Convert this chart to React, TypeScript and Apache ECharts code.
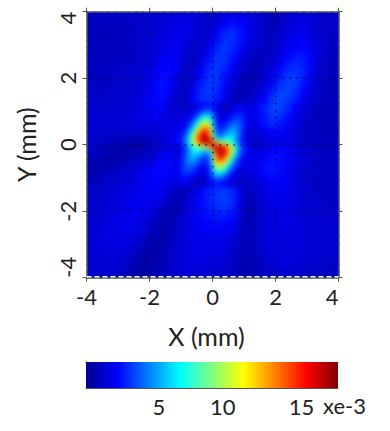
import React, { useEffect, useRef } from "react";
import * as echarts from "echarts";

const FONT = "Lato";
const jet = ["#00008f", "#0000ff", "#0080ff", "#00ffff", "#80ff80", "#ffff00", "#ff8000", "#ff0000", "#800000"];
const maxValue = 17.3;

// values in units of 1e-3; first row is the top of the plot, first column the left
const coarseRows: number[][] = [
  [0.9,1.0,1.0,1.0,1.0,1.1,1.1,1.2,1.3,1.3,1.4,1.5,1.5,1.5,1.3,1.0,1.2,1.6,1.8,1.8,1.5,1.3,1.1,0.8,0.9,1.2,1.4,1.5,1.3,1.1,1.1,1.1],
  [0.9,0.9,1.0,0.9,0.9,1.0,1.1,1.2,1.3,1.4,1.5,1.6,1.7,1.5,1.2,1.1,1.5,2.1,2.4,2.2,1.8,1.4,1.1,0.8,1.0,1.3,1.6,1.6,1.4,1.1,1.1,1.1],
  [0.8,0.9,0.9,0.9,0.9,1.0,1.1,1.2,1.3,1.4,1.6,1.8,1.8,1.4,1.1,1.3,1.9,2.7,2.9,2.5,1.9,1.4,1.0,0.9,1.2,1.5,1.8,1.8,1.5,1.2,1.1,1.0],
  [0.8,0.8,0.9,0.9,0.9,1.0,1.1,1.2,1.4,1.5,1.7,1.9,1.6,1.2,1.1,1.5,2.3,3.0,2.9,2.4,1.7,1.3,1.0,1.0,1.3,1.7,2.0,2.0,1.6,1.3,1.0,1.0],
  [0.8,0.8,0.9,0.9,0.9,1.0,1.1,1.2,1.4,1.6,1.9,1.9,1.4,1.0,1.2,1.9,2.7,3.1,2.7,2.0,1.4,1.1,0.9,1.1,1.4,1.9,2.2,2.2,1.8,1.4,1.0,0.9],
  [0.9,0.9,0.9,0.9,1.0,1.0,1.1,1.2,1.5,1.8,2.1,1.9,1.3,0.9,1.4,2.3,3.0,3.0,2.4,1.7,1.2,0.9,0.9,1.2,1.7,2.2,2.6,2.5,1.9,1.4,1.0,0.9],
  [0.9,0.9,0.9,1.0,1.0,1.1,1.1,1.3,1.6,2.0,2.2,1.8,1.1,1.0,1.8,2.7,3.1,2.8,2.0,1.3,0.9,0.8,1.0,1.4,2.0,2.6,2.9,2.7,2.0,1.3,0.9,0.8],
  [0.9,0.9,1.0,1.0,1.1,1.1,1.2,1.4,1.8,2.2,2.3,1.6,1.0,1.2,2.1,2.9,3.1,2.5,1.8,1.1,0.7,0.8,1.2,1.8,2.4,3.0,3.1,2.7,1.9,1.2,0.9,0.8],
  [1.0,1.0,1.0,1.1,1.1,1.2,1.3,1.5,2.0,2.4,2.2,1.4,0.9,1.4,2.5,3.1,3.0,2.3,1.5,0.9,0.7,0.9,1.3,2.1,2.8,3.2,3.2,2.5,1.7,1.1,0.9,0.8],
  [1.0,1.0,1.1,1.1,1.2,1.2,1.3,1.7,2.2,2.4,2.0,1.2,1.0,1.8,2.8,3.1,2.8,2.0,1.2,0.7,0.8,1.1,1.7,2.5,3.2,3.3,2.9,2.2,1.5,1.0,0.9,0.8],
  [1.1,1.1,1.1,1.1,1.2,1.3,1.4,1.9,2.2,2.3,1.7,1.0,1.1,2.0,2.8,3.0,2.6,1.8,1.0,0.7,1.0,1.4,2.2,3.0,3.4,3.1,2.6,1.8,1.3,1.0,0.9,0.8],
  [1.2,1.2,1.2,1.2,1.2,1.3,1.4,1.8,2.1,2.0,1.4,1.1,1.1,1.9,2.7,2.7,2.0,1.3,0.8,1.0,1.6,1.9,2.6,3.2,3.3,2.8,2.1,1.5,1.1,0.9,0.8,0.8],
  [1.2,1.3,1.3,1.3,1.3,1.4,1.5,1.7,1.9,1.7,1.3,1.3,1.8,3.0,4.0,3.0,2.0,1.5,1.3,2.2,2.1,1.9,2.5,3.1,3.0,2.4,1.8,1.3,1.0,0.9,0.8,0.8],
  [1.3,1.3,1.3,1.3,1.4,1.4,1.5,1.6,1.7,1.5,1.5,1.6,2.5,5.8,10.0,7.0,2.4,3.0,4.2,3.0,2.0,1.7,2.3,2.8,2.5,2.0,1.5,1.1,0.9,0.9,0.8,0.8],
  [1.3,1.2,1.2,1.2,1.1,1.1,1.2,1.3,1.3,1.4,1.6,1.9,3.1,7.4,12.8,8.4,3.0,4.6,4.7,2.9,1.6,1.3,1.7,2.0,2.1,1.8,1.4,1.1,0.9,0.9,0.9,0.8],
  [1.2,1.1,1.0,0.9,0.8,0.7,0.6,0.8,1.0,1.2,1.6,2.1,4.5,10.0,16.0,12.0,8.0,6.0,5.2,2.4,1.2,1.1,1.3,1.6,1.8,1.7,1.4,1.1,1.0,1.0,0.9,0.9],
  [1.1,0.9,0.8,0.7,0.6,0.5,0.6,0.8,1.0,1.4,1.7,2.2,5.2,6.0,8.8,12.0,16.0,10.0,5.0,2.4,1.2,1.3,1.5,1.8,2.0,1.9,1.5,1.2,1.0,1.0,0.9,0.9],
  [0.8,0.7,0.6,0.5,0.6,0.7,0.9,1.1,1.4,1.8,2.1,2.5,4.7,4.6,3.0,8.4,12.8,7.4,3.1,1.9,1.3,1.6,2.0,2.3,2.3,2.0,1.6,1.3,1.1,1.0,1.0,1.0],
  [0.6,0.5,0.6,0.7,0.9,1.1,1.3,1.6,2.0,2.2,2.3,2.4,4.2,3.0,2.4,7.0,10.0,5.8,2.5,1.6,1.5,1.9,2.3,2.5,2.3,1.9,1.5,1.2,1.1,1.0,1.0,1.0],
  [0.7,0.8,0.9,1.0,1.2,1.3,1.6,1.9,2.2,2.2,2.1,2.0,2.7,2.0,1.5,3.0,4.0,3.0,1.8,1.3,1.3,1.7,2.2,2.4,2.3,1.8,1.4,1.2,1.0,1.0,1.0,1.0],
  [1.0,1.0,1.1,1.2,1.3,1.4,1.7,1.9,2.1,2.0,1.7,1.3,0.9,1.1,1.8,2.5,2.9,3.0,2.6,1.7,1.2,1.3,1.7,2.1,2.1,1.8,1.4,1.2,1.0,1.0,1.0,1.0],
  [1.0,1.1,1.2,1.3,1.4,1.6,1.8,2.0,2.1,1.9,1.4,0.9,0.8,1.3,2.1,2.7,3.0,3.1,2.7,1.6,1.0,1.1,1.6,1.9,1.9,1.7,1.4,1.2,1.1,1.0,1.0,1.0],
  [1.1,1.2,1.3,1.4,1.5,1.7,1.9,2.0,1.9,1.5,1.0,0.7,1.0,1.7,2.3,2.7,3.0,3.2,2.9,1.7,0.8,1.0,1.4,1.8,1.9,1.7,1.4,1.2,1.1,1.1,1.0,1.0],
  [1.2,1.2,1.4,1.5,1.6,1.8,1.9,1.9,1.6,1.2,0.8,0.7,1.2,1.8,2.3,2.6,2.8,3.0,2.7,1.5,0.7,0.9,1.3,1.7,1.8,1.7,1.4,1.3,1.2,1.1,1.1,1.0],
  [1.2,1.3,1.4,1.5,1.7,1.8,1.8,1.6,1.3,0.9,0.6,0.8,1.3,1.8,2.2,2.4,2.5,2.6,2.3,1.3,0.7,0.9,1.3,1.6,1.7,1.6,1.5,1.3,1.2,1.2,1.1,1.1],
  [1.2,1.3,1.5,1.6,1.7,1.8,1.7,1.4,1.0,0.6,0.6,1.0,1.4,1.8,2.1,2.2,2.3,2.2,1.9,1.1,0.7,0.9,1.3,1.5,1.6,1.6,1.5,1.4,1.3,1.2,1.2,1.1],
  [1.3,1.4,1.5,1.6,1.7,1.7,1.5,1.2,0.8,0.5,0.7,1.1,1.5,1.8,1.9,2.0,2.0,1.9,1.6,1.0,0.7,0.9,1.3,1.5,1.6,1.5,1.5,1.4,1.3,1.3,1.2,1.2],
  [1.3,1.4,1.5,1.6,1.6,1.5,1.2,0.9,0.6,0.5,0.8,1.2,1.5,1.7,1.8,1.8,1.8,1.7,1.4,0.9,0.7,0.9,1.3,1.5,1.5,1.5,1.5,1.4,1.3,1.3,1.2,1.2],
  [1.3,1.4,1.5,1.5,1.5,1.3,1.0,0.7,0.5,0.6,0.9,1.3,1.5,1.6,1.7,1.7,1.7,1.5,1.2,0.8,0.7,0.9,1.3,1.5,1.5,1.5,1.4,1.4,1.3,1.3,1.2,1.2],
  [1.3,1.3,1.4,1.4,1.4,1.1,0.8,0.5,0.5,0.7,1.0,1.3,1.5,1.6,1.6,1.6,1.5,1.4,1.1,0.8,0.7,0.9,1.2,1.4,1.5,1.5,1.4,1.3,1.3,1.2,1.2,1.1],
  [1.2,1.3,1.3,1.3,1.2,0.9,0.6,0.4,0.5,0.8,1.1,1.3,1.4,1.5,1.5,1.5,1.4,1.2,1.0,0.7,0.6,0.8,1.1,1.3,1.4,1.4,1.3,1.2,1.2,1.1,1.1,1.0],
  [1.1,1.2,1.2,1.2,1.0,0.7,0.5,0.4,0.6,0.9,1.1,1.2,1.3,1.3,1.3,1.3,1.2,1.1,0.9,0.7,0.6,0.7,1.0,1.2,1.2,1.2,1.2,1.1,1.0,1.0,1.0,1.0],
];

// finer read of the central region, x and y from -1.25 to 1.25 mm
const fineRows: number[][] = [
  [1.2,1.1,1.0,1.0,1.1,1.3,1.6,2.0,2.3,2.4,2.0,1.5,1.0,0.8,1.0,1.3,1.7,1.9,1.7,1.5],
  [1.3,1.2,1.1,1.1,1.3,1.6,2.2,2.8,3.2,3.1,2.3,1.6,1.0,1.0,1.3,1.7,2.1,2.2,1.9,1.6],
  [1.4,1.3,1.2,1.3,1.7,2.3,3.3,4.4,5.0,4.5,2.8,1.7,1.2,1.3,1.8,2.3,2.6,2.5,2.1,1.6],
  [1.5,1.4,1.4,1.6,2.2,3.3,5.0,6.6,7.2,6.0,3.3,1.9,1.5,1.8,2.4,3.0,3.2,2.9,2.2,1.6],
  [1.6,1.5,1.6,2.0,3.0,4.6,6.8,8.8,9.4,7.8,3.8,2.2,1.9,2.4,3.1,3.6,3.6,3.0,2.2,1.5],
  [1.7,1.6,1.8,2.5,3.9,6.2,9.0,11.2,11.8,9.0,4.2,2.5,2.4,3.1,3.9,4.3,4.0,3.0,2.1,1.4],
  [1.8,1.8,2.3,3.3,5.3,8.0,11.4,13.8,14.4,10.4,4.6,2.9,3.0,4.0,4.8,4.9,4.1,2.9,1.9,1.3],
  [1.9,2.0,2.7,4.0,6.6,10.0,13.6,15.6,15.8,11.8,5.4,3.6,3.9,5.0,5.7,5.4,4.0,2.7,1.7,1.2],
  [2.0,2.2,3.1,4.8,7.6,11.2,14.6,16.0,16.2,13.6,7.4,5.0,5.6,6.6,6.6,5.6,3.9,2.4,1.5,1.1],
  [2.0,2.3,3.3,5.0,7.6,10.6,13.4,15.4,16.0,15.8,13.6,10.0,9.4,9.0,7.8,5.9,3.9,2.3,1.4,1.0],
  [1.0,1.4,2.3,3.9,5.9,7.8,9.0,9.4,10.0,13.6,15.8,16.0,15.4,13.4,10.6,7.6,5.0,3.3,2.3,2.0],
  [1.1,1.5,2.4,3.9,5.6,6.6,6.6,5.6,5.0,7.4,13.6,16.2,16.0,14.6,11.2,7.6,4.8,3.1,2.2,2.0],
  [1.2,1.7,2.7,4.0,5.4,5.7,5.0,3.9,3.6,5.4,11.8,15.8,15.6,13.6,10.0,6.6,4.0,2.7,2.0,1.9],
  [1.3,1.9,2.9,4.1,4.9,4.8,4.0,3.0,2.9,4.6,10.4,14.4,13.8,11.4,8.0,5.3,3.3,2.3,1.8,1.8],
  [1.4,2.1,3.0,4.0,4.3,3.9,3.1,2.4,2.5,4.2,9.0,11.8,11.2,9.0,6.2,3.9,2.5,1.8,1.6,1.7],
  [1.5,2.2,3.0,3.6,3.6,3.1,2.4,1.9,2.2,3.8,7.8,9.4,8.8,6.8,4.6,3.0,2.0,1.6,1.5,1.6],
  [1.6,2.2,2.9,3.2,3.0,2.4,1.8,1.5,1.9,3.3,6.0,7.2,6.6,5.0,3.3,2.2,1.6,1.4,1.4,1.5],
  [1.6,2.1,2.5,2.6,2.3,1.8,1.3,1.2,1.7,2.8,4.5,5.0,4.4,3.3,2.3,1.7,1.3,1.2,1.3,1.4],
  [1.6,1.9,2.2,2.1,1.7,1.3,1.0,1.0,1.6,2.3,3.1,3.2,2.8,2.2,1.6,1.3,1.1,1.1,1.2,1.3],
  [1.5,1.7,1.9,1.7,1.3,1.0,0.8,1.0,1.5,2.0,2.4,2.3,2.0,1.6,1.3,1.1,1.0,1.0,1.1,1.2],
];

const xLabels = ["-4", "-2", "0", "2", "4"];
const yLabels = ["-4", "-2", "0", "2", "4"];
const colorbarTicks = [5, 10, 15];
const colorbarRange = [0, maxValue];
const xTitle = "X (mm)";
const yTitle = "Y (mm)";
const colorbarUnit = "xe-3";

const PLOT = { left: 86.5, top: 11.7, width: 252, height: 266 };
const FINE_OFFSET = (4 - 1.25) / 8;
const FINE_SPAN = 2.5 / 8;

const cells = (rows: number[][]) => {
  const out: number[][] = [];
  rows.forEach((row, r) => row.forEach((v, c) => out.push([c, rows.length - 1 - r, v])));
  return out;
};
const indices = (n: number) => Array.from({ length: n }, (_, i) => String(i));

const heatOption = () => {
  const band = (gridIndex: number, n: number) => ({
    type: "category" as const, gridIndex, data: indices(n), show: false,
  });
  return {
    animation: false,
    grid: [
      { left: 0, top: 0, width: PLOT.width, height: PLOT.height },
      {
        left: PLOT.width * FINE_OFFSET,
        top: PLOT.height * FINE_OFFSET,
        width: PLOT.width * FINE_SPAN,
        height: PLOT.height * FINE_SPAN,
      },
    ],
    xAxis: [band(0, coarseRows[0].length), band(1, fineRows[0].length)],
    yAxis: [band(0, coarseRows.length), band(1, fineRows.length)],
    visualMap: {
      show: false, min: 0, max: maxValue, dimension: 2, seriesIndex: [0, 1],
      inRange: { color: jet },
    },
    series: [
      { type: "heatmap", xAxisIndex: 0, yAxisIndex: 0, data: cells(coarseRows), progressive: 0, silent: true },
      { type: "heatmap", xAxisIndex: 1, yAxisIndex: 1, data: cells(fineRows), progressive: 0, silent: true },
    ],
  };
};

const textColor = "#222222";
const frame = "#555555";
const label = { fontFamily: FONT, fontSize: 22, color: textColor };
const dotted = { show: true, lineStyle: { color: "rgba(0,0,40,0.75)", width: 1.5, type: [1.5, 5.5] as number[] } };
const noZero = { onZero: false };

const overlayOption = () => ({
  animation: false,
  grid: [
    { left: PLOT.left, top: PLOT.top, width: PLOT.width, height: PLOT.height },
    { left: 86, top: 362, width: 252, height: 26 },
  ],
  xAxis: [
    {
      type: "value", gridIndex: 0, position: "bottom", min: -4, max: 4, interval: 2,
      axisLine: { ...noZero, lineStyle: { color: frame, width: 1.5 } },
      axisTick: { length: 4, lineStyle: { color: frame } },
      axisLabel: {
        ...label, margin: 8, showMinLabel: true, showMaxLabel: true, alignMaxLabel: "right",
        formatter: (v: number) => (xLabels.includes(String(v)) ? String(v) : ""),
      },
      splitLine: dotted,
      name: xTitle, nameLocation: "middle", nameGap: 46,
      nameTextStyle: { ...label, fontSize: 25, padding: [0, 12, 0, 0] },
    },
    {
      type: "value", gridIndex: 0, position: "top", min: -4, max: 4, interval: 2,
      axisLine: { ...noZero, lineStyle: { color: frame, width: 1.5 } },
      axisTick: { length: 4, lineStyle: { color: frame } },
      axisLabel: { show: false }, splitLine: { show: false },
    },
    {
      type: "value", gridIndex: 1, position: "bottom", min: colorbarRange[0], max: colorbarRange[1],
      axisLine: { ...noZero, lineStyle: { color: frame, width: 1 } },
      axisTick: { inside: true, length: 3, lineStyle: { color: "#333" }, customValues: colorbarTicks },
      axisLabel: {
        ...label, margin: 7, customValues: colorbarTicks,
        formatter: (v: number) => (v === 10 ? `{ten|${v}}` : v === 15 ? `{fifteen|${v}}` : String(v)),
        rich: {
          ten: { ...label, padding: [0, 18, 0, 0] },
          fifteen: { ...label, padding: [0, 6, 0, 0] },
        },
      },
      splitLine: { show: false },
    },
    {
      type: "value", gridIndex: 1, position: "top", min: colorbarRange[0], max: colorbarRange[1],
      axisLine: { ...noZero, lineStyle: { color: frame, width: 1 } },
      axisTick: { inside: true, length: 3, lineStyle: { color: "#333" }, customValues: colorbarTicks },
      axisLabel: { show: false }, splitLine: { show: false },
    },
  ],
  yAxis: [
    {
      type: "value", gridIndex: 0, position: "left", min: -4, max: 4, interval: 2,
      axisLine: { ...noZero, lineStyle: { color: frame, width: 1.5 } },
      axisTick: { length: 4, lineStyle: { color: frame } },
      axisLabel: {
        ...label, rotate: 90, margin: 8, alignMinLabel: "left", alignMaxLabel: "right",
        formatter: (v: number) => (yLabels.includes(String(v)) ? String(v) : ""),
      },
      splitLine: dotted,
      name: yTitle, nameLocation: "middle", nameRotate: 90, nameGap: 48,
      nameTextStyle: { ...label, fontSize: 25 },
    },
    {
      type: "value", gridIndex: 0, position: "right", min: -4, max: 4, interval: 2,
      axisLine: { ...noZero, lineStyle: { color: frame, width: 1.5 } },
      axisTick: { length: 4, lineStyle: { color: frame } },
      axisLabel: { show: false }, splitLine: { show: false },
    },
    {
      type: "value", gridIndex: 1, min: 0, max: 1, show: true,
      axisLine: { ...noZero, show: true, lineStyle: { color: frame, width: 1 } },
      axisTick: { show: false }, axisLabel: { show: false }, splitLine: { show: false },
    },
  ],
  series: [
    {
      type: "line", xAxisIndex: 0, yAxisIndex: 0, symbol: "none", silent: true,
      data: [[-4, -3.97], [4, -3.97]],
      lineStyle: { color: "#ffffff", width: 1.5, type: [5, 3] },
    },
    {
      type: "custom", xAxisIndex: 2, yAxisIndex: 2, silent: true,
      data: [[colorbarRange[0], colorbarRange[1]]],
      renderItem: (_p: any, api: any) => {
        const a = api.coord([api.value(0), 1]);
        const b = api.coord([api.value(1), 0]);
        return {
          type: "rect",
          shape: { x: a[0], y: a[1], width: b[0] - a[0], height: b[1] - a[1] },
          style: {
            fill: new echarts.graphic.LinearGradient(0, 0, 1, 0,
              jet.map((color, i) => ({ offset: i / (jet.length - 1), color }))),
          },
        };
      },
    },
  ],
  graphic: [
    {
      type: "text", left: 323, top: 394,
      style: { text: colorbarUnit, fontFamily: FONT, fontSize: 22, fill: textColor },
    },
  ],
});

export default function App() {
  const heatRef = useRef<HTMLDivElement>(null);
  const overlayRef = useRef<HTMLDivElement>(null);
  useEffect(() => {
    document.body.style.margin = "0";
    const heat = echarts.init(heatRef.current!, null, { renderer: "svg" });
    const overlay = echarts.init(overlayRef.current!, null, { renderer: "svg" });
    heat.setOption(heatOption() as any);
    overlay.setOption(overlayOption() as any);
    return () => {
      heat.dispose();
      overlay.dispose();
    };
  }, []);
  return (
    <div style={{ position: "relative", width: 390, height: 431, background: "#fff", overflow: "hidden" }}>
      <div
        style={{
          position: "absolute", left: PLOT.left, top: PLOT.top, width: PLOT.width, height: PLOT.height,
          overflow: "hidden", background: "#0000d0",
        }}
      >
        <div ref={heatRef} style={{ width: PLOT.width, height: PLOT.height, filter: "blur(2.5px)" }} />
      </div>
      <div ref={overlayRef} style={{ position: "absolute", left: 0, top: 0, width: 390, height: 431 }} />
    </div>
  );
}
